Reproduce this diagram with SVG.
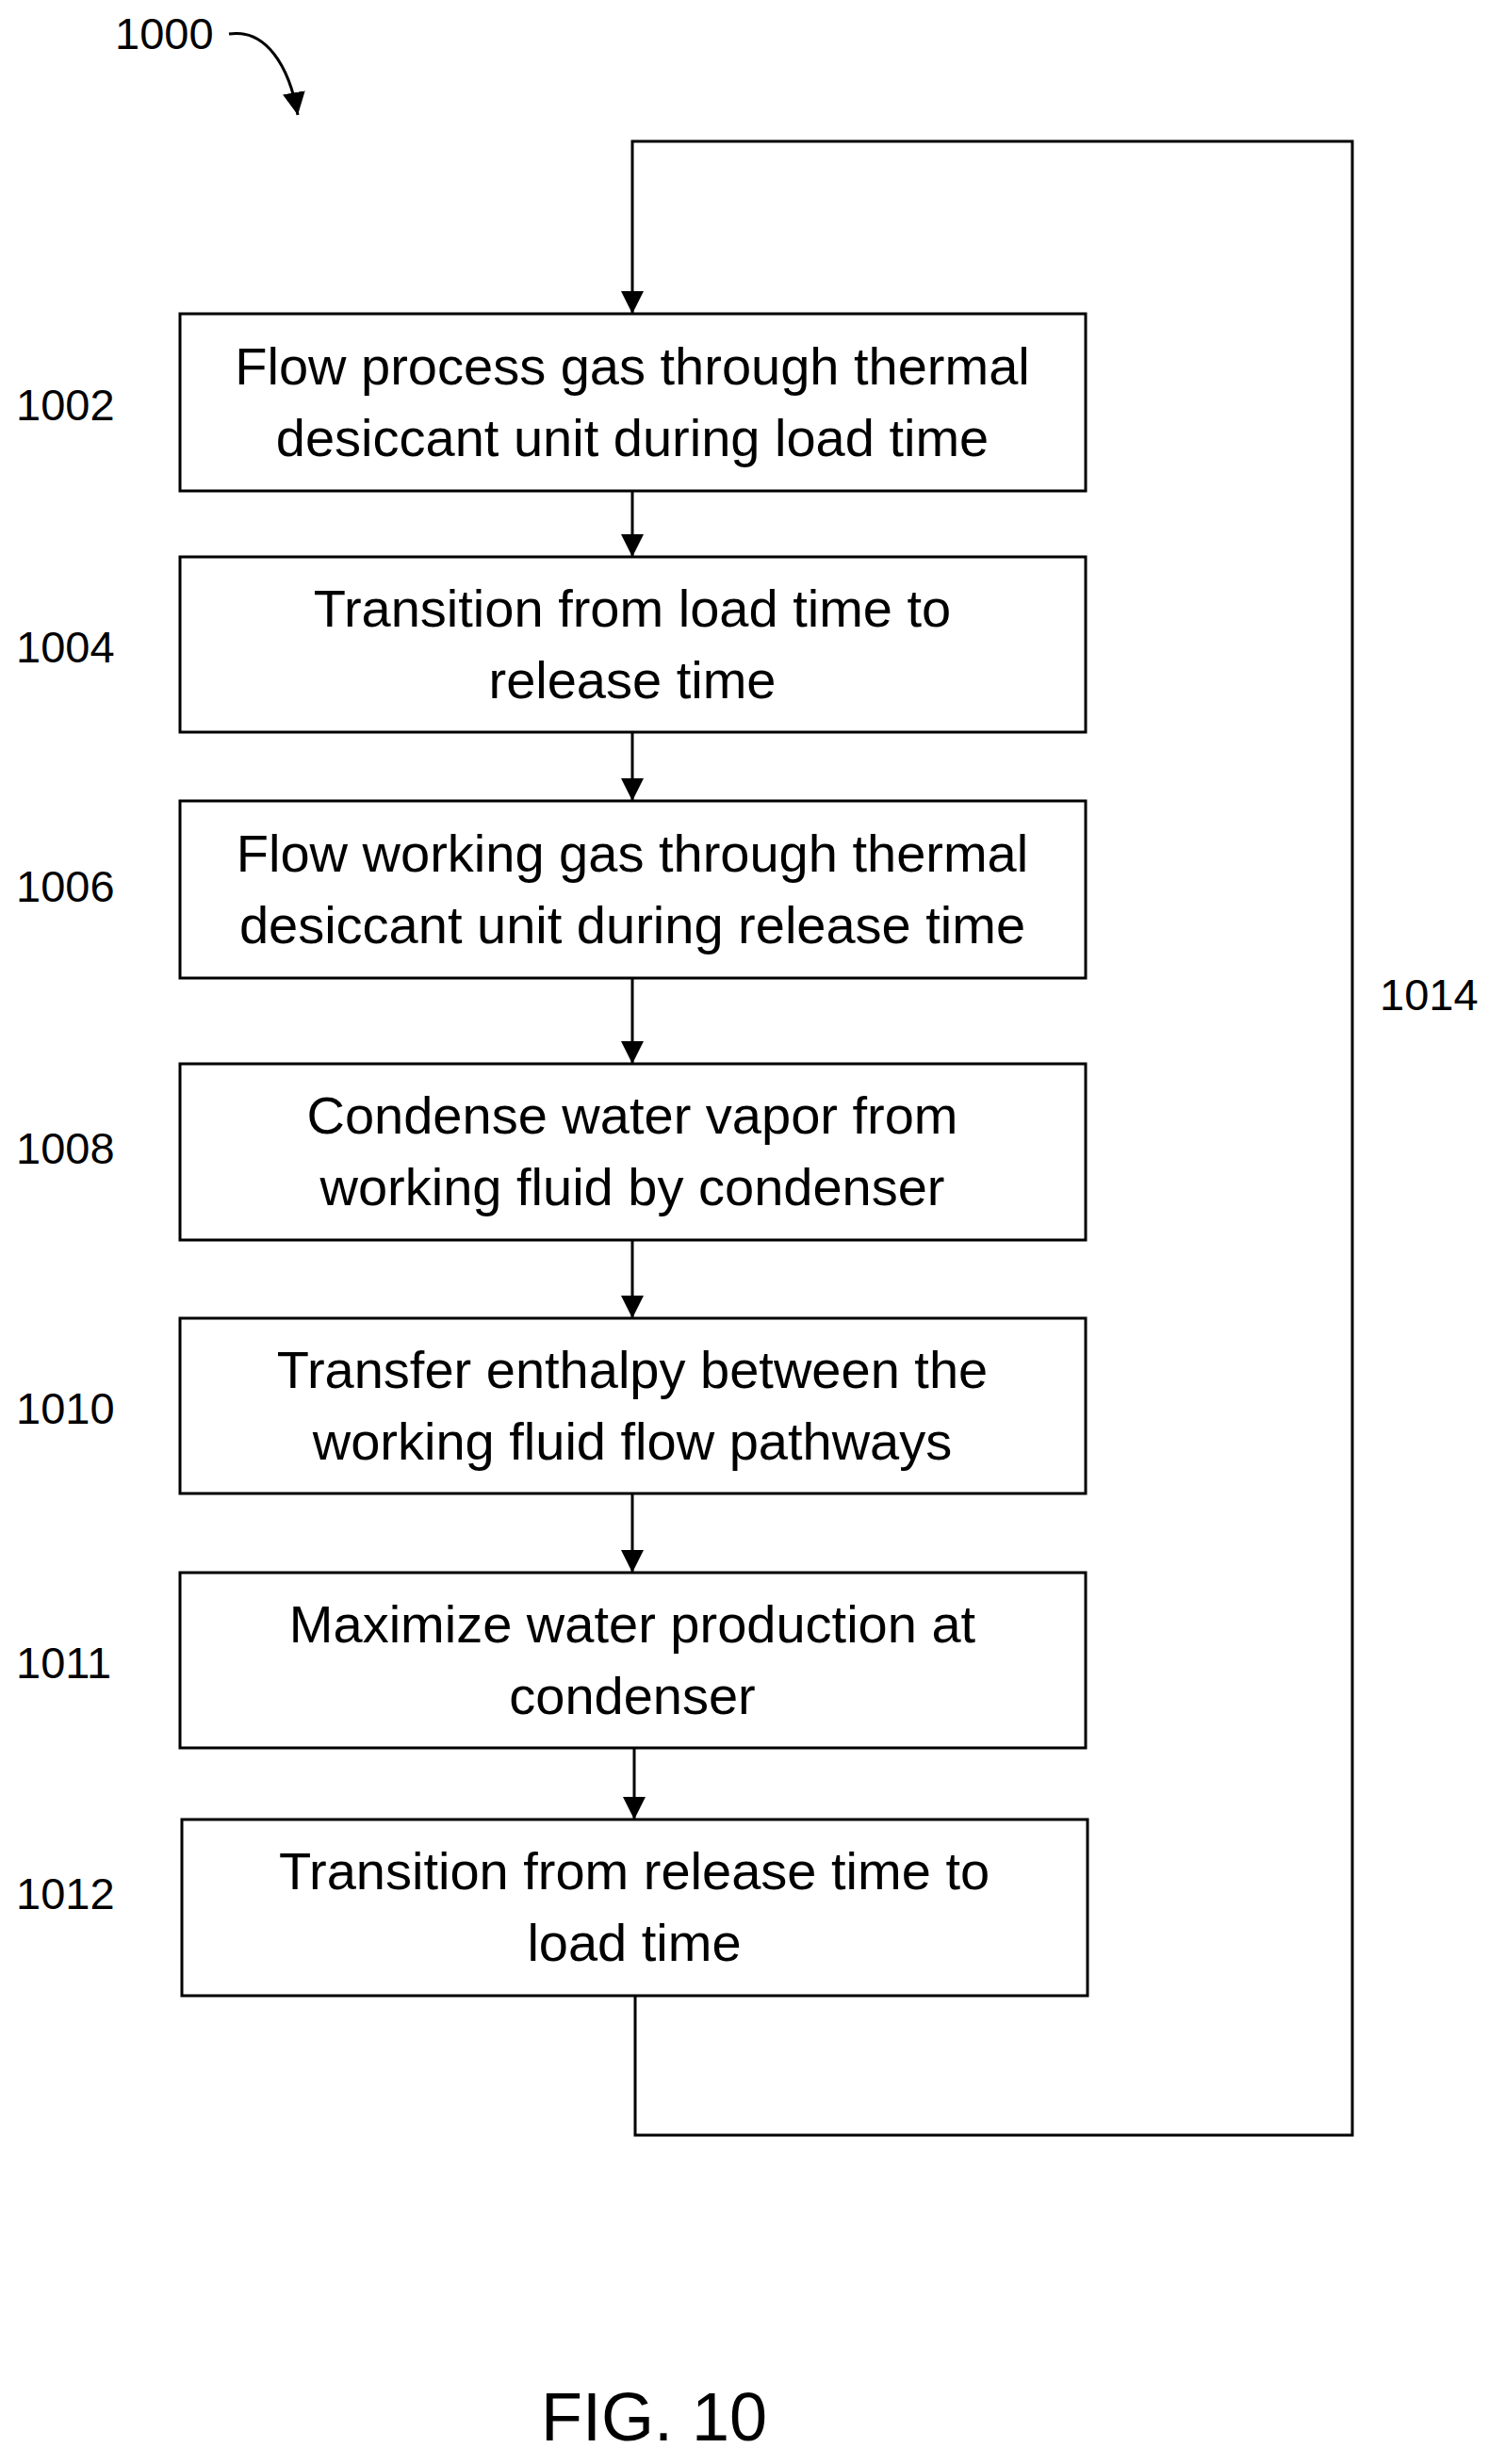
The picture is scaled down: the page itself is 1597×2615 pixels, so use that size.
<svg xmlns="http://www.w3.org/2000/svg" width="1597" height="2615" viewBox="0 0 1597 2615">
<style>
.box{fill:#fff;stroke:#000;stroke-width:3}
.t{font-family:"Liberation Sans",Arial,sans-serif;font-size:56px;text-anchor:middle;fill:#000}
.l{font-family:"Liberation Sans",Arial,sans-serif;font-size:47px;fill:#000}
.c{fill:none;stroke:#000;stroke-width:3}
</style>
<defs><marker id="b" markerWidth="24" markerHeight="24" refX="10" refY="5" orient="auto" markerUnits="userSpaceOnUse" viewBox="0 0 10 10"><path d="M0,0 L10,5 L0,10 Z" fill="#000"/></marker></defs>
<text class="l" x="122" y="52">1000</text>
<g id="connectors">
<path class="c" d="M243,36 C282,30 307,70 316,122" marker-end="url(#b)"/>
<path class="c" d="M674,2118 V2266 H1435 V150 H671 V333" marker-end="url(#b)"/>
<line class="c" x1="671" y1="521" x2="671" y2="591" marker-end="url(#b)"/>
<line class="c" x1="671" y1="777" x2="671" y2="850" marker-end="url(#b)"/>
<line class="c" x1="671" y1="1038" x2="671" y2="1129" marker-end="url(#b)"/>
<line class="c" x1="671" y1="1316" x2="671" y2="1399" marker-end="url(#b)"/>
<line class="c" x1="671" y1="1585" x2="671" y2="1669" marker-end="url(#b)"/>
<line class="c" x1="673" y1="1855" x2="673" y2="1931" marker-end="url(#b)"/>
</g>
<g id="n1002"><rect class="box" x="191" y="333" width="961" height="188"/><text class="t" x="671" y="408">Flow process gas through thermal</text><text class="t" x="671" y="484">desiccant unit during load time</text><text class="l" x="17" y="446">1002</text></g>
<g id="n1004"><rect class="box" x="191" y="591" width="961" height="186"/><text class="t" x="671" y="665">Transition from load time to</text><text class="t" x="671" y="741">release time</text><text class="l" x="17" y="703">1004</text></g>
<g id="n1006"><rect class="box" x="191" y="850" width="961" height="188"/><text class="t" x="671" y="925">Flow working gas through thermal</text><text class="t" x="671" y="1001">desiccant unit during release time</text><text class="l" x="17" y="957">1006</text></g>
<g id="n1008"><rect class="box" x="191" y="1129" width="961" height="187"/><text class="t" x="671" y="1203">Condense water vapor from</text><text class="t" x="671" y="1279">working fluid by condenser</text><text class="l" x="17" y="1235">1008</text></g>
<g id="n1010"><rect class="box" x="191" y="1399" width="961" height="186"/><text class="t" x="671" y="1473">Transfer enthalpy between the</text><text class="t" x="671" y="1549">working fluid flow pathways</text><text class="l" x="17" y="1511">1010</text></g>
<g id="n1011"><rect class="box" x="191" y="1669" width="961" height="186"/><text class="t" x="671" y="1743">Maximize water production at</text><text class="t" x="671" y="1819">condenser</text><text class="l" x="17" y="1781">1011</text></g>
<g id="n1012"><rect class="box" x="193" y="1931" width="961" height="187"/><text class="t" x="673" y="2005">Transition from release time to</text><text class="t" x="673" y="2081">load time</text><text class="l" x="17" y="2026">1012</text></g>
<text class="l" x="1464" y="1072">1014</text>
<text class="t" x="694" y="2590" style="font-size:72px">FIG. 10</text>
</svg>
